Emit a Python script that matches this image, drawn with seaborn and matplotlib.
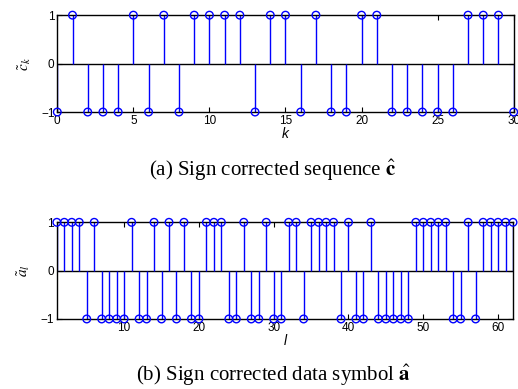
import numpy as np
import pandas as pd
import matplotlib
matplotlib.use("Agg")
import matplotlib.pyplot as plt
import seaborn as sns

# Data
k_idx = list(range(0, 31))
c_vals = [-1, 1, -1, -1, -1, 1, -1, 1, -1, 1, 1, 1, 1, -1, 1, 1, -1, 1, -1, -1,
          1, 1, -1, -1, -1, -1, -1, 1, 1, 1, -1]
l_idx = list(range(1, 63))
a_vals = [1, 1, 1, 1, -1, 1, -1, -1, -1, -1, 1, -1, -1, 1, -1, 1, -1, 1, -1, -1,
          1, 1, 1, -1, -1, 1, -1, -1, 1, -1, -1, 1, 1, -1, 1, 1, 1, 1, -1, 1,
          -1, -1, 1, -1, -1, -1, -1, -1, 1, 1, 1, 1, 1, -1, -1, 1, -1, 1, 1, 1,
          1, 1]
top_xticks = [0, 5, 10, 15, 20, 25, 30]
bot_xticks = [10, 20, 30, 40, 50, 60]
yticks = [-1, 0, 1]

sns.set_style("ticks")
plt.rcParams['font.family'] = ['Liberation Sans', 'DejaVu Sans']
plt.rcParams['mathtext.fontset'] = 'stix'
for key in ['text.color', 'axes.labelcolor', 'xtick.color', 'ytick.color',
            'xtick.labelcolor', 'ytick.labelcolor']:
    plt.rcParams[key] = 'black'

fig = plt.figure(figsize=(5.18, 3.89), dpi=100)
ax1 = fig.add_axes([0.1106, 0.712, 0.8811, 0.249])
ax2 = fig.add_axes([0.1097, 0.180, 0.8807, 0.2485])

blue = '#0000FF'

def stem_panel(ax, x, y, xlim, xticks, xlabel, ylabel):
    df = pd.DataFrame({'x': x, 'y': y})
    ax.axhline(0, color='black', lw=1.0, zorder=1)
    ax.vlines(df['x'], 0, df['y'], color=blue, lw=1.0, zorder=2)
    sns.scatterplot(data=df, x='x', y='y', ax=ax, marker='o', s=30,
                    facecolor='none', edgecolor=blue, linewidth=1.0,
                    zorder=3, clip_on=False, legend=False)
    ax.set_xlim(*xlim)
    ax.set_ylim(-1, 1)
    ax.set_xticks(xticks)
    ax.set_yticks(yticks)
    ax.set_yticklabels(['\u22121', '0', '1'])
    ax.tick_params(direction='in', top=True, right=True, length=3.5,
                   width=0.8, labelsize=8.5, pad=2, colors='black')
    for s in ax.spines.values():
        s.set_visible(True)
        s.set_linewidth(1.0)
        s.set_color('black')
    ax.set_xlabel(xlabel, fontsize=10, fontstyle='italic', labelpad=0,
                  color='black')
    ax.set_ylabel(ylabel, fontsize=11, labelpad=6, color='black')

stem_panel(ax1, k_idx, c_vals, (0, 30), top_xticks, 'k', r'$\tilde{c}_k$')
stem_panel(ax2, l_idx, a_vals, (1, 62), bot_xticks, 'l', r'$\tilde{a}_l$')

fig.text(273 / 518, 1 - 176 / 389, r'(a) Sign corrected sequence $\hat{\mathbf{c}}$',
         ha='center', va='baseline', fontsize=15, family='Liberation Serif',
         color='black')
fig.text(273 / 518, 1 - 381 / 389, r'(b) Sign corrected data symbol $\hat{\mathbf{a}}$',
         ha='center', va='baseline', fontsize=15, family='Liberation Serif',
         color='black')

fig.savefig('out.png', dpi=100)
